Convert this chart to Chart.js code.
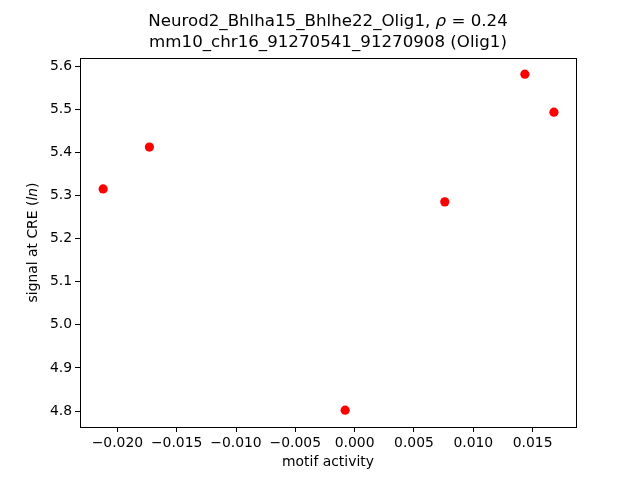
<!DOCTYPE html>
<html>
<head>
<meta charset="utf-8">
<script src="https://cdn.jsdelivr.net/npm/chart.js@4"></script>
<style>
  html, body { margin: 0; padding: 0; background: white; }
  #wrap { width: 640px; height: 480px; }
</style>
</head>
<body>
<div id="wrap"><canvas id="grafico" width="640" height="480"></canvas></div>
<script>
const motifActivity = [-0.0212, -0.0173, -0.0008, 0.0076, 0.01435, 0.0168];
const signalCRE = [5.315, 5.412, 4.802, 5.285, 5.581, 5.493];
const titleLines = ['Neurod2_Bhlha15_Bhlhe22_Olig1, \u03c1 = 0.24', 'mm10_chr16_91270541_91270908 (Olig1)'];
const xLimits = [-0.02315, 0.01866];
const yLimits = [4.763, 5.6186];

const fonte = 'DejaVu Sans';

// escreve um texto com partes em fontes diferentes, centrado em (cx, cy)
function textoMisto(ctx, partes, tamanho, cx, cy) {
    let total = 0;
    partes.forEach(p => {
        ctx.font = `${p[1]}${tamanho}px "${fonte}"`;
        total += ctx.measureText(p[0]).width;
    });
    ctx.textAlign = 'left';
    let x = cx - total / 2;
    partes.forEach(p => {
        ctx.font = `${p[1]}${tamanho}px "${fonte}"`;
        ctx.fillText(p[0], x, cy);
        x += ctx.measureText(p[0]).width;
    });
}

const caixaELabels = {
    id: 'caixaELabels',
    afterDraw(chart) {
        const { ctx, chartArea } = chart;
        const centroX = (chartArea.left + chartArea.right) / 2;
        ctx.save();
        ctx.strokeStyle = 'black';
        ctx.lineWidth = 1;
        ctx.strokeRect(Math.round(chartArea.left) + 0.5, Math.round(chartArea.top) + 0.5,
            Math.round(chartArea.right - chartArea.left), Math.round(chartArea.bottom - chartArea.top));

        ctx.fillStyle = 'black';
        ctx.textBaseline = 'middle';

        // titulo centrado sobre a área do gráfico, rho em itálico
        const [antes, depois] = titleLines[0].split('\u03c1');
        textoMisto(ctx, [[antes, ''], ['\u03c1', 'italic '], [depois, '']], 16.67, centroX, 22);
        textoMisto(ctx, [[titleLines[1], '']], 16.67, centroX, 43);

        textoMisto(ctx, [['motif activity', '']], 13.9, centroX, 462);

        // y label com "ln" em itálico
        ctx.translate(33, (chartArea.top + chartArea.bottom) / 2);
        ctx.rotate(-Math.PI / 2);
        textoMisto(ctx, [['signal at CRE (', ''], ['ln', 'italic '], [')', '']], 13.9, 0, 0);
        ctx.restore();
    }
};

function fmtX(v) {
    if (Math.abs(v) < 1e-9) return '0.000';
    return v.toFixed(3).replace('-', '\u2212');
}

const ctx = document.getElementById('grafico').getContext('2d');
const chart = new Chart(ctx, {
    type: 'scatter',
    data: {
        datasets: [{
            data: motifActivity.map((x, i) => ({ x: x, y: signalCRE[i] })),
            backgroundColor: 'red',
            borderWidth: 0,
            pointRadius: 4.6,
            pointHoverRadius: 4.6
        }]
    },
    options: {
        responsive: false,
        animation: false,
        devicePixelRatio: 1,
        layout: { padding: { left: 0, right: 64, top: 58, bottom: 0 } },
        plugins: {
            legend: { display: false },
            tooltip: { enabled: false },
            title: { display: false }
        },
        scales: {
            x: {
                type: 'linear',
                min: xLimits[0],
                max: xLimits[1],
                afterFit: (scale) => { scale.height = 53; },
                ticks: {
                    stepSize: 0.005,
                    includeBounds: false,
                    autoSkip: false,
                    maxRotation: 0,
                    color: 'black',
                    padding: 3,
                    font: { family: fonte, size: 13.9 },
                    callback: (v) => fmtX(v)
                },
                grid: { drawOnChartArea: false, drawTicks: true, tickLength: 5, color: 'black' },
                border: { display: true, color: 'black' }
            },
            y: {
                type: 'linear',
                min: yLimits[0],
                max: yLimits[1],
                afterFit: (scale) => { scale.width = 80; },
                ticks: {
                    stepSize: 0.1,
                    includeBounds: false,
                    autoSkip: false,
                    color: 'black',
                    padding: 3,
                    font: { family: fonte, size: 13.9 },
                    callback: (v) => v.toFixed(1)
                },
                grid: { drawOnChartArea: false, drawTicks: true, tickLength: 5, color: 'black' },
                border: { display: true, color: 'black' }
            }
        }
    },
    plugins: [caixaELabels]
});
</script>
</body>
</html>
